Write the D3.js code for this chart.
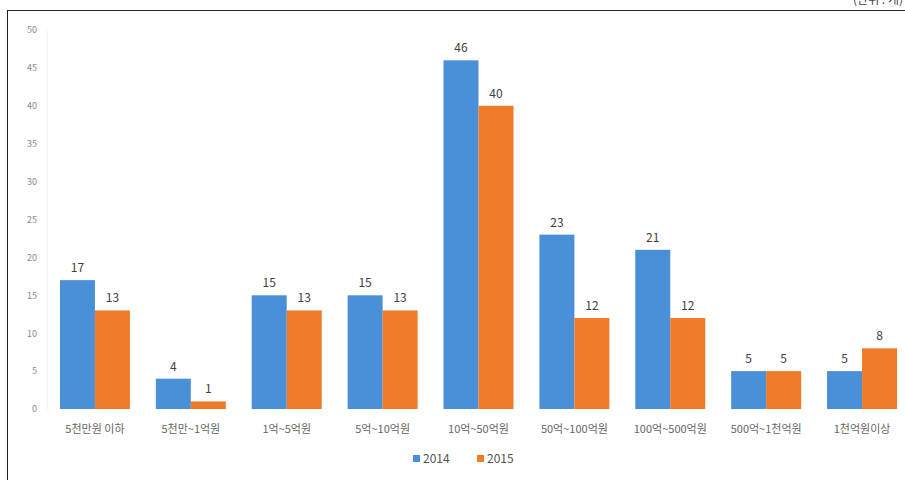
<!DOCTYPE html>
<html>
<head>
<meta charset="utf-8">
<script src="https://cdn.jsdelivr.net/npm/d3@7"></script>
<style>
  body { margin: 0; background: #fff; }
  svg { display: block; }
</style>
</head>
<body>
<svg id="chart" width="905" height="480"></svg>
<script>
// data
const categories = ["5천만원 이하", "5천만~1억원", "1억~5억원", "5억~10억원", "10억~50억원",
    "50억~100억원", "100억~500억원", "500억~1천억원", "1천억원이상"];
const seriesNames = ["2014", "2015"];
const values2014 = [17, 4, 15, 15, 46, 23, 21, 5, 5];
const values2015 = [13, 1, 13, 13, 40, 12, 12, 5, 8];
const yTicks = [0, 5, 10, 15, 20, 25, 30, 35, 40, 45, 50];

const colors = ["#4a90d9", "#ef7a28"];
const fontFamily = '"Noto Sans CJK KR", "Noto Sans", sans-serif';

const svg = d3.select("#chart");
const width = 905, height = 480;

// frame (cropped on the right/bottom like the source)
svg.append("rect")
    .attr("x", 7.5).attr("y", 10.5)
    .attr("width", 1000).attr("height", 1000)
    .attr("fill", "none")
    .attr("stroke", "#222")
    .attr("stroke-width", 1);

// unit note, mostly cut off at the top edge
svg.append("text")
    .attr("x", 903).attr("y", 4)
    .attr("text-anchor", "end")
    .style("font-family", fontFamily)
    .style("font-size", "12px")
    .style("fill", "#444")
    .text("(단위 : 개)");

const y = d3.scaleLinear().domain([0, 50]).range([409, 30]);
const x0 = d3.scaleBand().domain(categories).range([47, 910]).paddingInner(0.27).paddingOuter(0.135);
const x1 = d3.scaleBand().domain(seriesNames).range([0, x0.bandwidth()]);

// y axis
const yAxis = svg.append("g")
    .attr("transform", "translate(47,0)")
    .call(d3.axisLeft(y).tickValues(yTicks).tickSize(0).tickPadding(10));
yAxis.select(".domain").attr("stroke", "#eef2f6");
yAxis.selectAll("text")
    .style("font-family", fontFamily)
    .style("font-size", "9px")
    .style("fill", "#8a8a8a");

// bars
const rows = categories.map((c, i) => ({ cat: c, vals: [values2014[i], values2015[i]] }));
const groups = svg.append("g").selectAll("g")
    .data(rows).join("g")
    .attr("transform", d => `translate(${x0(d.cat)},0)`);

groups.selectAll("rect")
    .data(d => d.vals.map((v, k) => ({ key: seriesNames[k], v, k })))
    .join("rect")
    .attr("x", d => x1(d.key))
    .attr("y", d => y(d.v))
    .attr("width", x1.bandwidth())
    .attr("height", d => y(0) - y(d.v))
    .attr("fill", d => colors[d.k]);

groups.selectAll("text.val")
    .data(d => d.vals.map((v, k) => ({ key: seriesNames[k], v, k })))
    .join("text")
    .attr("class", "val")
    .attr("x", d => x1(d.key) + x1.bandwidth() / 2)
    .attr("y", d => y(d.v) - 8)
    .attr("text-anchor", "middle")
    .style("font-family", fontFamily)
    .style("font-size", "12px")
    .style("fill", "#404040")
    .text(d => d.v);

// x axis labels
const xAxis = svg.append("g")
    .attr("transform", "translate(0,409)")
    .call(d3.axisBottom(x0).tickSize(0).tickPadding(16));
xAxis.select(".domain").remove();
xAxis.selectAll("text")
    .style("font-family", fontFamily)
    .style("font-size", "11px")
    .style("fill", "#666");

// legend
const legend = svg.append("g").attr("transform", "translate(413,459)");
const items = legend.selectAll("g").data(seriesNames).join("g")
    .attr("transform", (d, i) => `translate(${i * 64},0)`);
items.append("rect")
    .attr("x", 0).attr("y", -4)
    .attr("width", 7).attr("height", 7)
    .attr("fill", (d, i) => colors[i]);
items.append("text")
    .attr("x", 10).attr("y", 4)
    .style("font-family", fontFamily)
    .style("font-size", "12px")
    .style("fill", "#555")
    .text(d => d);
</script>
</body>
</html>
